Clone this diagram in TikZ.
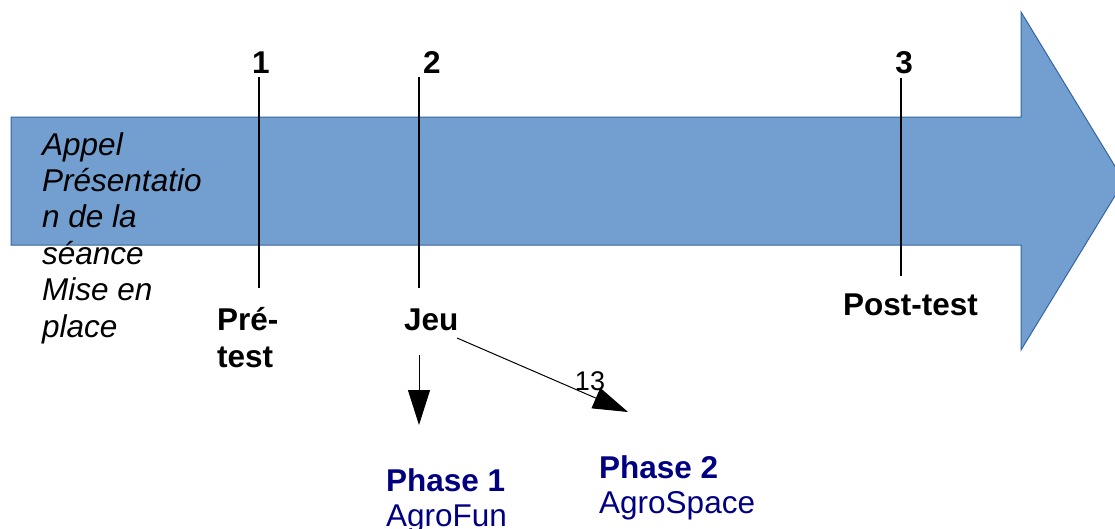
\documentclass[tikz,border=0pt]{standalone}
\usepackage{fontspec}
\setmainfont{Liberation Sans}
\usetikzlibrary{arrows.meta}
\definecolor{arrowfill}{HTML}{729FCF}
\definecolor{arrowline}{HTML}{3465A4}
\definecolor{navy}{HTML}{000080}
\begin{document}
\begin{tikzpicture}[x=1pt,y=-1pt,
  lbl/.style={inner sep=0pt,font=\fontsize{31.5}{37}\selectfont\bfseries},
  phase/.style={inner sep=0pt,align=left,text=navy,font=\fontsize{31.5}{35}\selectfont},
  tick/.style={line width=1.2pt,black},
  bigarrow/.style={-{Triangle[length=35pt,width=22pt]},line width=1pt}]
\useasboundingbox (0,0) rectangle (1115,528);
\clip (0,0) rectangle (1115,528);
% big arrow
\path[fill=arrowfill,draw=arrowline,line width=1pt]
  (11,117) -- (1021,117) -- (1021,12) -- (1124,181) -- (1021,350) -- (1021,245) -- (11,245) -- cycle;
% left text (anchor on last line's baseline)
\node[inner sep=0pt,anchor=base west,align=left,font=\fontsize{31.5}{36.4}\selectfont\itshape] (intro) at (42,337)
  {Appel\\Présentatio\\n de la\\séance\\Mise en\\place};
% numbers
\node[lbl,anchor=base] (n1) at (261,73) {1};
\node[lbl,anchor=base] (n2) at (432,73) {2};
\node[lbl,anchor=base] (n3) at (904,73) {3};
% labels
\node[lbl,anchor=base west,align=left] (pre) at (217,367) {Pré-\\test};
\node[lbl,anchor=base west] (jeu) at (404,330) {Jeu};
\node[lbl,anchor=base west] (post) at (843,315) {Post-test};
% tick lines
\coordinate (t1) at (259,288);
\coordinate (t2) at (419,288);
\coordinate (t3) at (901,276);
\draw[tick] (n1.south -| t1) ++(0,4) -- (t1);
\draw[tick] (n2.south -| t2) ++(0,4) -- (t2);
\draw[tick] (n3.south -| t3) ++(0,4) -- (t3);
% phases (anchor on last line's baseline)
\node[phase,anchor=base west] (ph1) at (386,526) {\textbf{Phase 1}\\AgroFun};
\node[phase,anchor=base west] (ph2) at (599,513) {\textbf{Phase 2}\\AgroSpace};
% arrows
\coordinate (a1s) at (419,355);
\coordinate (a1e) at (419,425);
\coordinate (a2s) at (457,338);
\coordinate (a2e) at (628,412);
\draw[bigarrow] (a1s) -- (a1e);
\draw[bigarrow] (a2s) -- (a2e);
\node[inner sep=0pt,anchor=base,font=\fontsize{27}{30}\selectfont] (thirteen) at (590,390) {13};
\end{tikzpicture}
\end{document}
